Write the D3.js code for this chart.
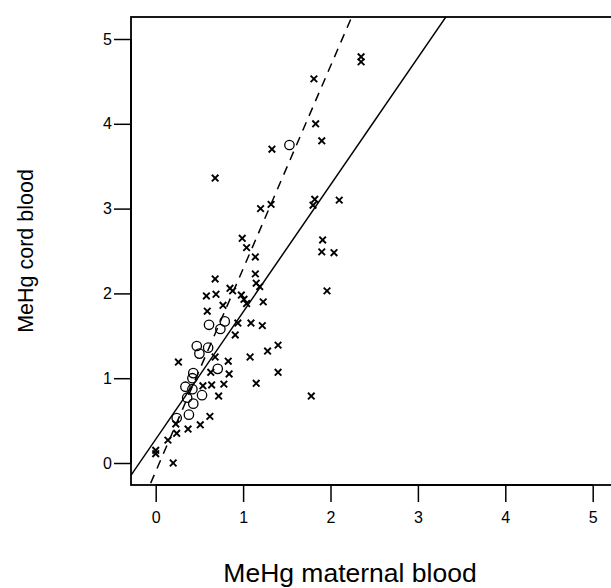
<!DOCTYPE html>
<html>
<head>
<meta charset="utf-8">
<script src="https://cdn.jsdelivr.net/npm/d3@7"></script>
<style>
  html, body { margin: 0; padding: 0; background: #fff; }
  svg { display: block; font-family: "Liberation Sans", Arial, sans-serif; }
</style>
</head>
<body>
<script>
// ---- data ----
const crossX = [2.35,2.35,1.81,1.83,1.90,1.33,0.68,1.32,1.20,1.82,1.80,2.10,1.91,1.90,2.04,1.96,
  0.99,1.04,1.14,1.14,1.15,1.19,0.68,0.58,0.69,0.85,0.88,0.98,1.01,1.04,1.23,0.77,0.59,
  0.94,1.09,1.22,0.91,0.26,0.68,0.83,1.08,1.28,1.40,1.40,0.84,0.63,1.15,0.64,0.78,0.54,
  0.72,1.78,0.62,0.51,0.37,0.23,0.24,0.14,0.00,0.00,0.20];
const crossY = [4.79,4.73,4.53,4.00,3.80,3.70,3.36,3.05,3.00,3.11,3.04,3.10,2.63,2.49,2.48,2.03,
  2.65,2.54,2.43,2.23,2.12,2.08,2.17,1.97,1.99,2.06,2.03,1.98,1.93,1.88,1.90,1.86,1.79,
  1.65,1.65,1.62,1.51,1.19,1.25,1.20,1.25,1.32,1.39,1.07,1.05,1.07,0.94,0.92,0.93,0.91,
  0.79,0.79,0.55,0.45,0.40,0.46,0.35,0.27,0.15,0.11,0.00];
const circleX = [1.53,0.61,0.79,0.74,0.47,0.60,0.50,0.71,0.43,0.42,0.34,0.42,0.36,0.43,0.53,0.38,0.24];
const circleY = [3.75,1.63,1.67,1.58,1.38,1.36,1.29,1.11,1.06,1.00,0.90,0.87,0.77,0.70,0.80,0.57,0.53];
const xTicks = [0,1,2,3,4,5];
const yTicks = [0,1,2,3,4,5];
// fitted lines: [intercept, slope]
const solidFit = [0.28, 1.50];
const dashedFit = [-0.10, 2.39];
const xTitle = "MeHg maternal blood";
const yTitle = "MeHg cord blood";

// ---- layout ----
const W = 611, H = 588;
const box = {left: 131, top: 17, right: 617, bottom: 485};
const x = d3.scaleLinear().domain([0,5]).range([155.7, 592.7]);
const y = d3.scaleLinear().domain([0,5]).range([463, 39]);

const svg = d3.select("body").append("svg").attr("width", W).attr("height", H);

svg.append("defs").append("clipPath").attr("id","clip")
  .append("rect").attr("x", box.left).attr("y", box.top)
  .attr("width", box.right-box.left).attr("height", box.bottom-box.top);

// box (top, left, bottom; right side beyond the canvas)
svg.append("rect").attr("x", box.left).attr("y", box.top)
  .attr("width", box.right-box.left).attr("height", box.bottom-box.top)
  .attr("fill","none").attr("stroke","#000").attr("stroke-width",1.8);

// axes
const gx = svg.append("g").attr("transform",`translate(0,${box.bottom})`)
  .call(d3.axisBottom(x).tickValues(xTicks).tickFormat(d3.format("d")).tickSize(17).tickPadding(10));
const gy = svg.append("g").attr("transform",`translate(${box.left},0)`)
  .call(d3.axisLeft(y).tickValues(yTicks).tickFormat(d3.format("d")).tickSize(17).tickPadding(2));
[gx, gy].forEach(g => {
  g.select(".domain").remove();
  g.selectAll(".tick line").attr("stroke","#000").attr("stroke-width",1.5);
  g.selectAll(".tick text").attr("fill","#000").style("font-size","16px")
    .style("font-family",'"Liberation Sans", Arial, sans-serif');
});
svg.append("line").attr("x1", x(0)).attr("x2", x(5)).attr("y1", box.bottom).attr("y2", box.bottom)
  .attr("stroke","#000").attr("stroke-width",1.8);
svg.append("line").attr("x1", box.left).attr("x2", box.left).attr("y1", y(0)).attr("y2", y(5))
  .attr("stroke","#000").attr("stroke-width",1.8);

// fit lines
const plot = svg.append("g").attr("clip-path","url(#clip)");
function fitLine(fit, dash) {
  const xs = [-1, 6];
  plot.append("line")
    .attr("x1", x(xs[0])).attr("y1", y(fit[0] + fit[1]*xs[0]))
    .attr("x2", x(xs[1])).attr("y2", y(fit[0] + fit[1]*xs[1]))
    .attr("stroke","#000").attr("stroke-width",1.5)
    .attr("stroke-dasharray", dash || null);
}
fitLine(solidFit, null);
fitLine(dashedFit, "9,7");

// crosses
const s = 3.3;
const crosses = d3.range(crossX.length).map(i => [crossX[i], crossY[i]]);
plot.selectAll("path.cross").data(crosses).enter().append("path")
  .attr("class","cross")
  .attr("d", d => {
    const cx = x(d[0]), cy = y(d[1]);
    return `M${cx-s},${cy-s}L${cx+s},${cy+s}M${cx-s},${cy+s}L${cx+s},${cy-s}`;
  })
  .attr("stroke","#000").attr("stroke-width",1.9).attr("fill","none");

// circles
const circs = d3.range(circleX.length).map(i => [circleX[i], circleY[i]]);
plot.selectAll("circle.pt").data(circs).enter().append("circle")
  .attr("class","pt")
  .attr("cx", d => x(d[0])).attr("cy", d => y(d[1])).attr("r", 4.7)
  .attr("fill","none").attr("stroke","#000").attr("stroke-width",1.3);

// titles
svg.append("text").attr("x", 350).attr("y", 582).attr("text-anchor","middle")
  .style("font-size","26.5px").attr("fill","#000").text(xTitle);
svg.append("text").attr("transform","translate(33,251) rotate(-90)").attr("text-anchor","middle")
  .style("font-size","21.5px").attr("fill","#000").text(yTitle);
</script>
</body>
</html>
